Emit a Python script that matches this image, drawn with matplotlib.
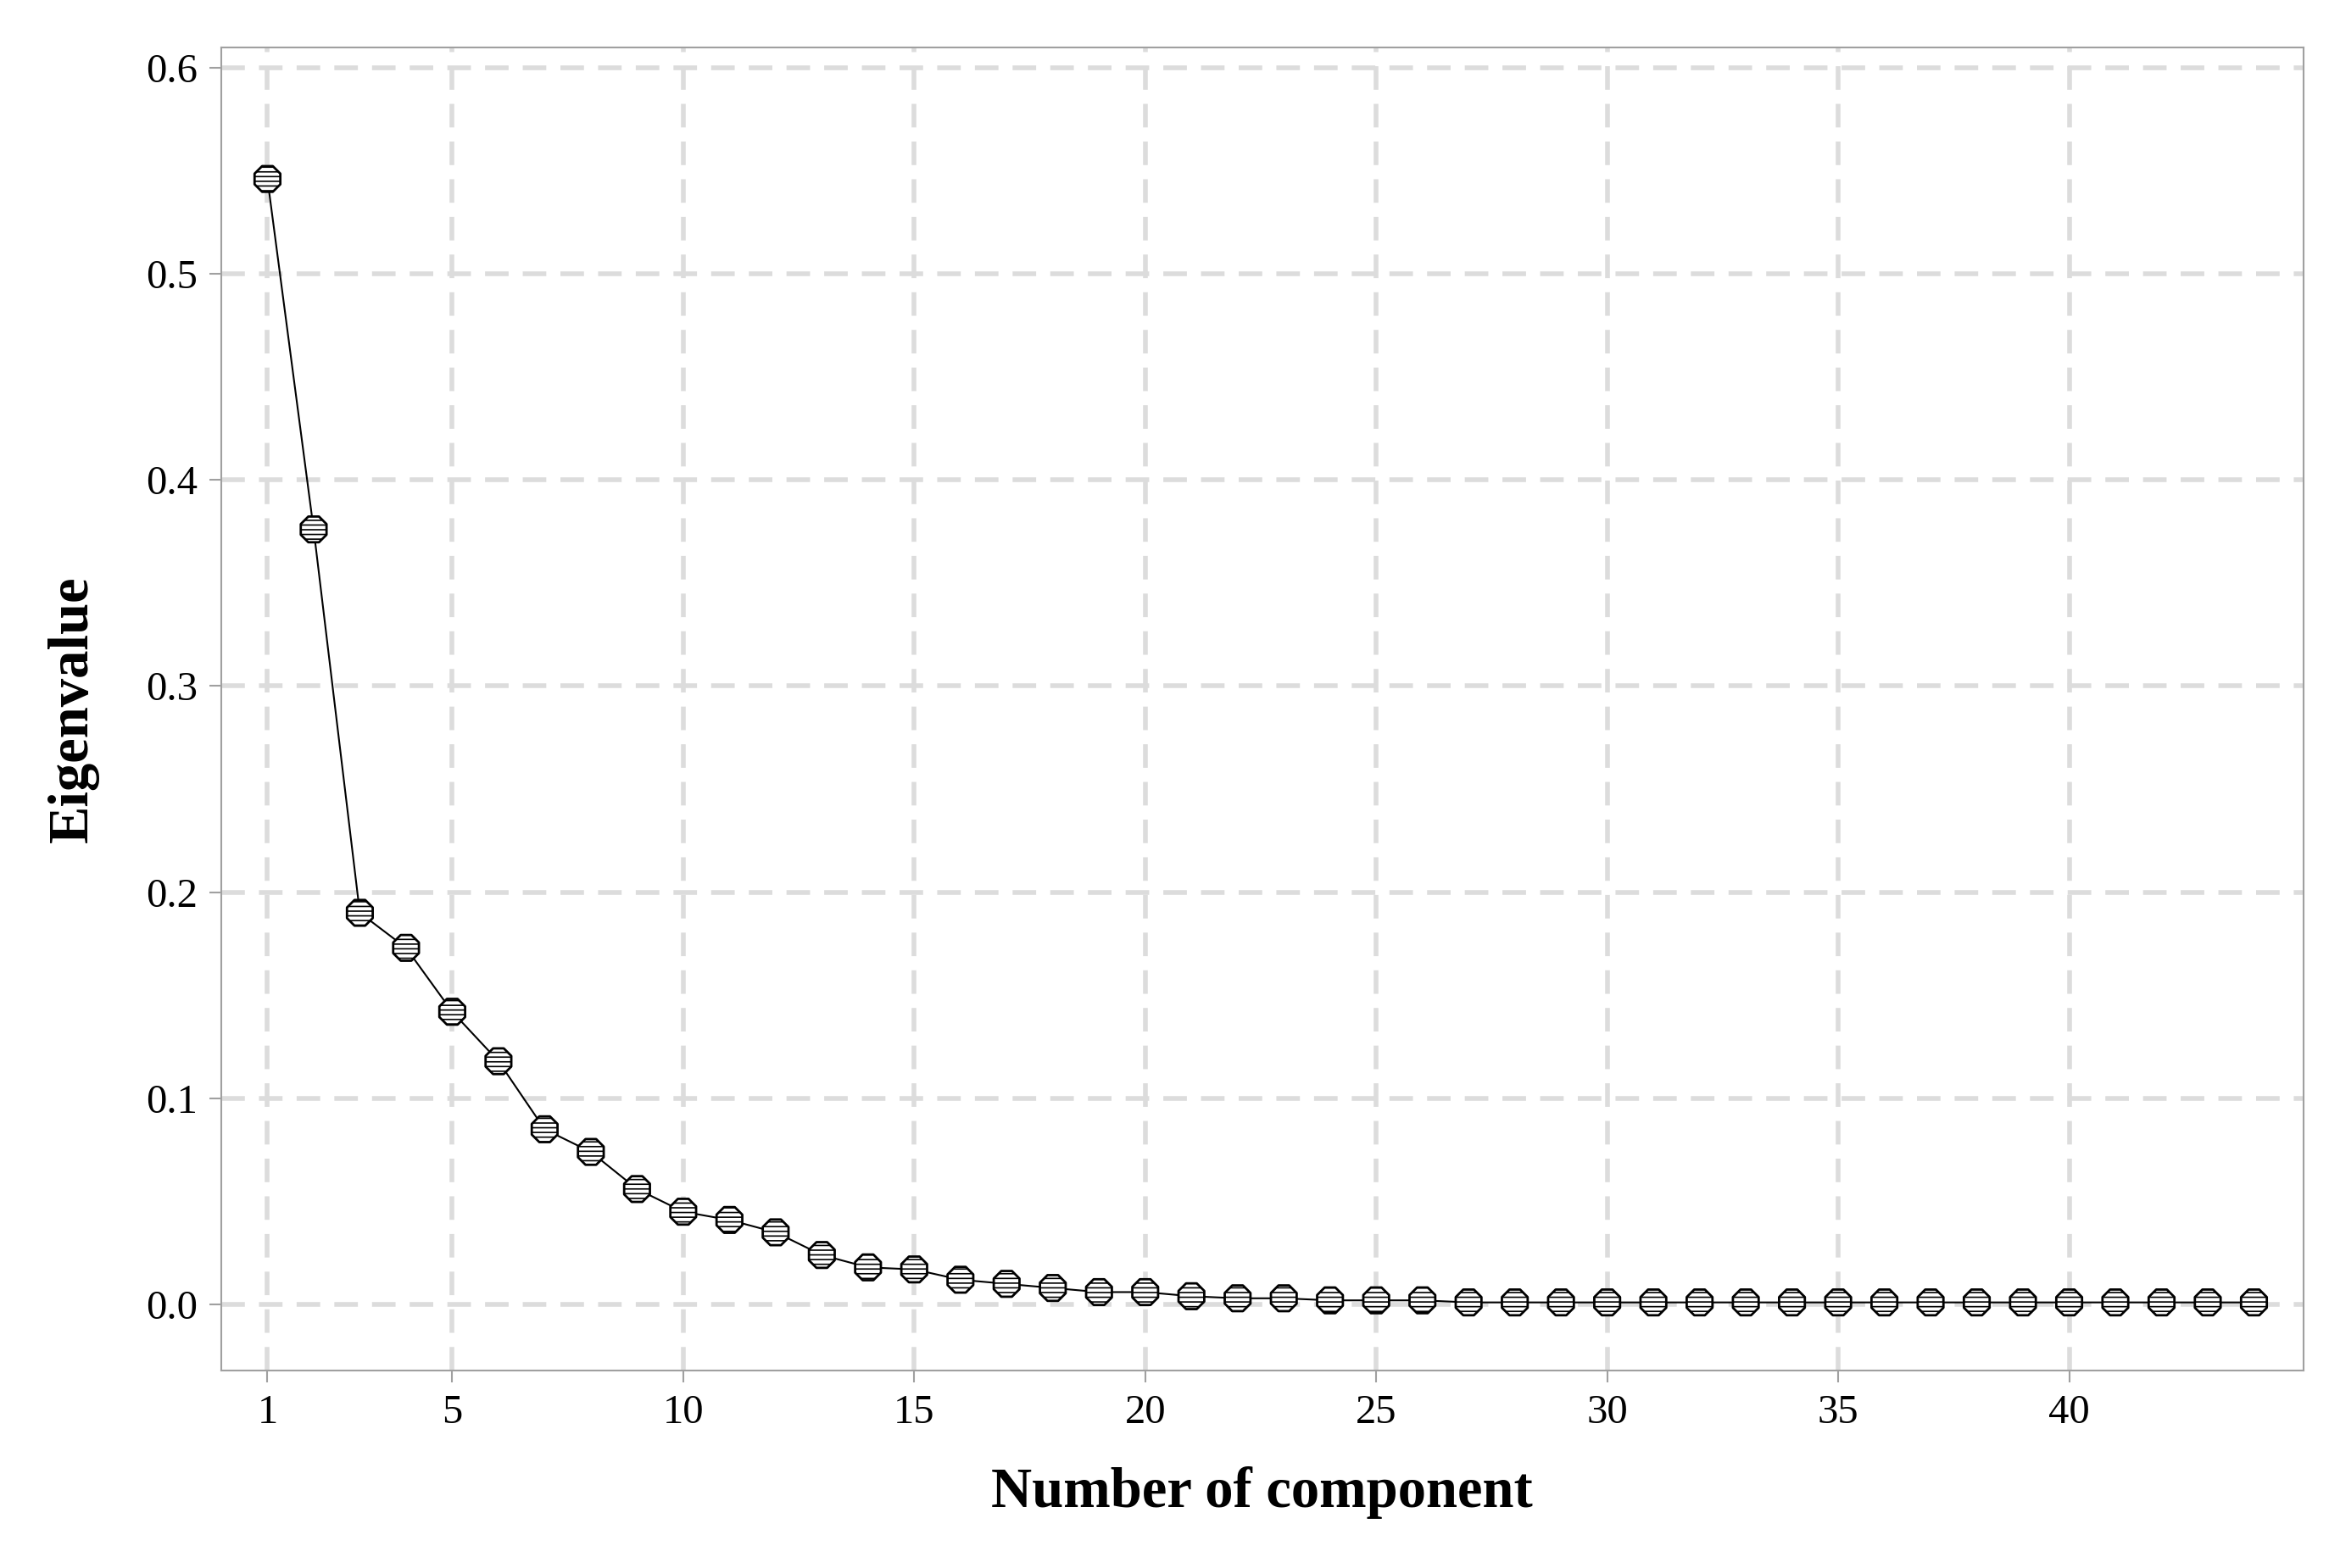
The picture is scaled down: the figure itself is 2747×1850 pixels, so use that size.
import matplotlib
matplotlib.use("Agg")
import matplotlib.pyplot as plt

components = list(range(1, 45))
eigenvalues = [0.546, 0.376, 0.190, 0.173, 0.142, 0.118, 0.085, 0.074, 0.056, 0.045,
               0.041, 0.035, 0.024, 0.018, 0.017, 0.012, 0.010, 0.008, 0.006, 0.006,
               0.004, 0.003, 0.003, 0.002, 0.002, 0.002, 0.001, 0.001, 0.001, 0.001,
               0.001, 0.001, 0.001, 0.001, 0.001, 0.001, 0.001, 0.001, 0.001, 0.001,
               0.001, 0.001, 0.001, 0.001]
xticks = [1, 5, 10, 15, 20, 25, 30, 35, 40]
yticks = [0.0, 0.1, 0.2, 0.3, 0.4, 0.5, 0.6]

plt.rcParams['font.family'] = ['Liberation Serif', 'DejaVu Serif']
plt.rcParams['hatch.linewidth'] = 1.2
fig = plt.figure(figsize=(27.47, 18.5), dpi=100)
ax = fig.add_axes([0.095, 0.126, 0.894, 0.844])

ax.plot(components, eigenvalues, color='black', lw=1.5, zorder=3)
ax.scatter(components, eigenvalues, marker='8', s=560, facecolor='white',
           edgecolor='black', linewidth=2, hatch='---', zorder=4)

ax.set_xlim(0.0, 45.07)
ax.set_ylim(-0.032, 0.61)
ax.set_xticks(xticks)
ax.set_yticks(yticks)
ax.set_yticklabels([f"{v:.1f}" for v in yticks])
ax.grid(True, color='#dcdcdc', linestyle=(0, (5, 3)), lw=4)
ax.set_axisbelow(True)
for s in ax.spines.values():
    s.set_color('#a0a0a0')
    s.set_linewidth(1.5)
ax.tick_params(labelsize=35, color='#a0a0a0', length=10, width=1.5, pad=10)
ax.set_xlabel('Number of component', fontsize=48, fontweight='bold', labelpad=30)
ax.set_ylabel('Eigenvalue', fontsize=48, fontweight='bold', labelpad=40)

fig.savefig('out.png', dpi=100)
